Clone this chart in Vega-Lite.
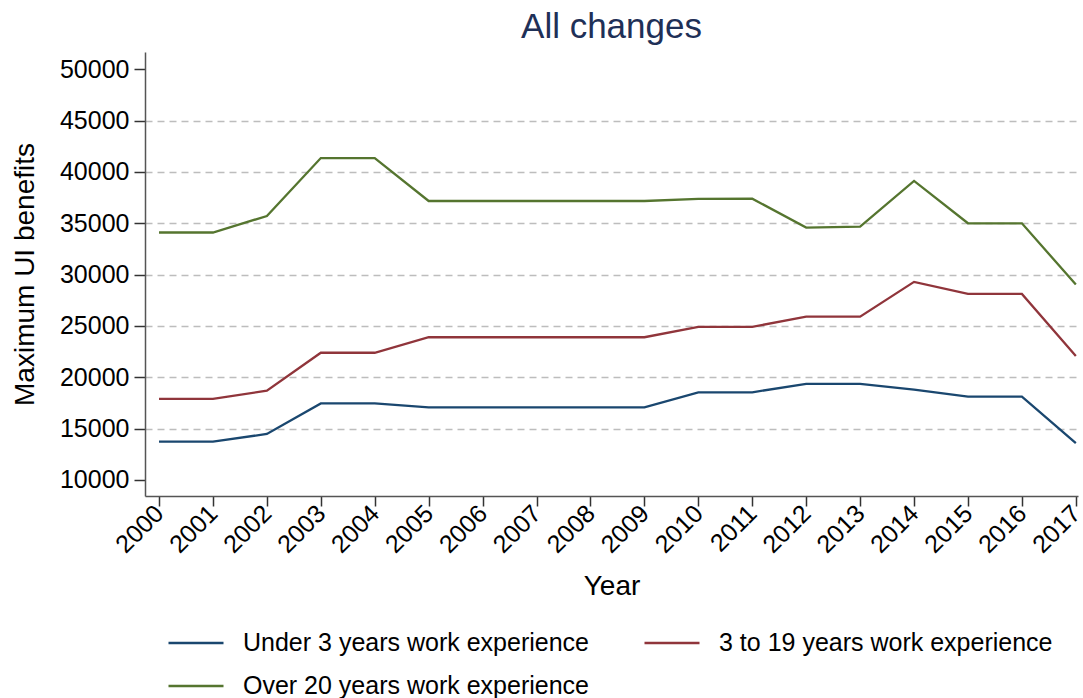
{
  "$schema": "https://vega.github.io/schema/vega-lite/v6.json",
  "autosize": {"type": "none"},
  "width": 933,
  "height": 444,
  "padding": {"left": 145, "top": 52, "right": 5, "bottom": 202},
  "background": "white",
  "config": {
    "view": {"stroke": null},
    "font": "Liberation Sans",
    "axis": {"labelFont": "Liberation Sans", "titleFont": "Liberation Sans", "labelColor": "#000", "titleColor": "#000", "domainColor": "#555", "tickColor": "#333", "titleFontWeight": "normal"},
    "legend": {"labelFont": "Liberation Sans"}
  },
  "title": {"text": "All changes", "fontSize": 35, "font": "Liberation Sans", "fontWeight": "normal", "color": "#1f3057", "anchor": "middle", "offset": 7},
  "data": {"values": [
    {"year": 2000, "group": "Under 3 years work experience", "value": 13730},
    {"year": 2001, "group": "Under 3 years work experience", "value": 13730},
    {"year": 2002, "group": "Under 3 years work experience", "value": 14480},
    {"year": 2003, "group": "Under 3 years work experience", "value": 17460},
    {"year": 2004, "group": "Under 3 years work experience", "value": 17460},
    {"year": 2005, "group": "Under 3 years work experience", "value": 17070},
    {"year": 2006, "group": "Under 3 years work experience", "value": 17070},
    {"year": 2007, "group": "Under 3 years work experience", "value": 17070},
    {"year": 2008, "group": "Under 3 years work experience", "value": 17070},
    {"year": 2009, "group": "Under 3 years work experience", "value": 17070},
    {"year": 2010, "group": "Under 3 years work experience", "value": 18540},
    {"year": 2011, "group": "Under 3 years work experience", "value": 18540},
    {"year": 2012, "group": "Under 3 years work experience", "value": 19360},
    {"year": 2013, "group": "Under 3 years work experience", "value": 19360},
    {"year": 2014, "group": "Under 3 years work experience", "value": 18800},
    {"year": 2015, "group": "Under 3 years work experience", "value": 18120},
    {"year": 2016, "group": "Under 3 years work experience", "value": 18120},
    {"year": 2017, "group": "Under 3 years work experience", "value": 13600},
    {"year": 2000, "group": "3 to 19 years work experience", "value": 17890},
    {"year": 2001, "group": "3 to 19 years work experience", "value": 17890},
    {"year": 2002, "group": "3 to 19 years work experience", "value": 18700},
    {"year": 2003, "group": "3 to 19 years work experience", "value": 22390},
    {"year": 2004, "group": "3 to 19 years work experience", "value": 22390},
    {"year": 2005, "group": "3 to 19 years work experience", "value": 23900},
    {"year": 2006, "group": "3 to 19 years work experience", "value": 23900},
    {"year": 2007, "group": "3 to 19 years work experience", "value": 23900},
    {"year": 2008, "group": "3 to 19 years work experience", "value": 23900},
    {"year": 2009, "group": "3 to 19 years work experience", "value": 23900},
    {"year": 2010, "group": "3 to 19 years work experience", "value": 24920},
    {"year": 2011, "group": "3 to 19 years work experience", "value": 24920},
    {"year": 2012, "group": "3 to 19 years work experience", "value": 25900},
    {"year": 2013, "group": "3 to 19 years work experience", "value": 25900},
    {"year": 2014, "group": "3 to 19 years work experience", "value": 29290},
    {"year": 2015, "group": "3 to 19 years work experience", "value": 28120},
    {"year": 2016, "group": "3 to 19 years work experience", "value": 28120},
    {"year": 2017, "group": "3 to 19 years work experience", "value": 22080},
    {"year": 2000, "group": "Over 20 years work experience", "value": 34100},
    {"year": 2001, "group": "Over 20 years work experience", "value": 34100},
    {"year": 2002, "group": "Over 20 years work experience", "value": 35710},
    {"year": 2003, "group": "Over 20 years work experience", "value": 41350},
    {"year": 2004, "group": "Over 20 years work experience", "value": 41350},
    {"year": 2005, "group": "Over 20 years work experience", "value": 37170},
    {"year": 2006, "group": "Over 20 years work experience", "value": 37170},
    {"year": 2007, "group": "Over 20 years work experience", "value": 37170},
    {"year": 2008, "group": "Over 20 years work experience", "value": 37170},
    {"year": 2009, "group": "Over 20 years work experience", "value": 37170},
    {"year": 2010, "group": "Over 20 years work experience", "value": 37370},
    {"year": 2011, "group": "Over 20 years work experience", "value": 37400},
    {"year": 2012, "group": "Over 20 years work experience", "value": 34580},
    {"year": 2013, "group": "Over 20 years work experience", "value": 34680},
    {"year": 2014, "group": "Over 20 years work experience", "value": 39120},
    {"year": 2015, "group": "Over 20 years work experience", "value": 35000},
    {"year": 2016, "group": "Over 20 years work experience", "value": 35000},
    {"year": 2017, "group": "Over 20 years work experience", "value": 29030}
  ]},
  "mark": {"type": "line", "strokeWidth": 2.3, "clip": false},
  "encoding": {
    "x": {
      "field": "year", "type": "quantitative",
      "scale": {"domain": [1999.74, 2017.04], "nice": false, "zero": false},
      "axis": {
        "title": "Year", "titleFontSize": 28, "titlePadding": 15,
        "values": [2000,2001,2002,2003,2004,2005,2006,2007,2008,2009,2010,2011,2012,2013,2014,2015,2016,2017],
        "format": "d", "labelAngle": -45, "labelAlign": "right", "labelBaseline": "middle",
        "labelFontSize": 25, "labelPadding": 3, "tickSize": 10, "tickWidth": 1.5,
        "grid": false, "domainWidth": 1.5, "labelOverlap": false, "labelBound": false, "labelFlush": false
      }
    },
    "y": {
      "field": "value", "type": "quantitative",
      "scale": {"domain": [8440, 51680], "nice": false, "zero": false},
      "axis": {
        "title": "Maximum UI benefits", "titleFontSize": 28, "titlePadding": 20,
        "values": [10000,15000,20000,25000,30000,35000,40000,45000,50000],
        "format": "d", "labelFontSize": 25, "labelPadding": 5, "tickSize": 11, "tickWidth": 1.5,
        "domainWidth": 1.5,
        "grid": true, "gridDash": [7, 5], "gridColor": "#bdbdbd", "gridWidth": 1.5,
        "gridOpacity": {"condition": {"test": "datum.value == 10000 || datum.value == 50000", "value": 0}, "value": 1}
      }
    },
    "color": {
      "field": "group", "type": "nominal",
      "scale": {
        "domain": ["Under 3 years work experience", "3 to 19 years work experience", "Over 20 years work experience"],
        "range": ["#1a476f", "#90353b", "#55752f"]
      },
      "legend": {
        "title": null, "orient": "none", "legendX": 22, "legendY": 562,
        "direction": "horizontal", "columns": 2,
        "symbolType": "stroke", "symbolSize": 3025, "symbolStrokeWidth": 2.3,
        "labelFontSize": 25, "labelOffset": 18, "labelLimit": 600,
        "columnPadding": 50, "rowPadding": 1
      }
    }
  }
}
